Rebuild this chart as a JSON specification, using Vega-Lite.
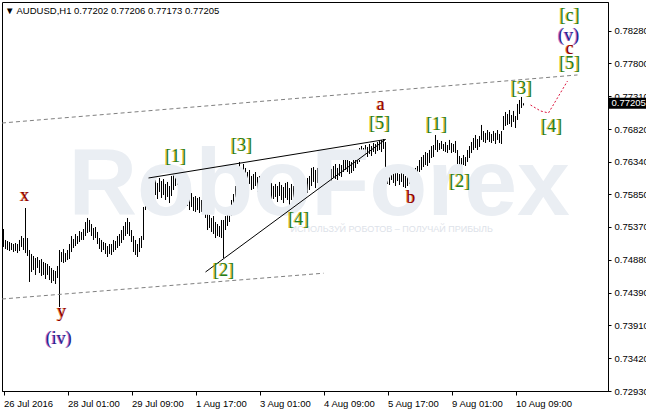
{
"$schema":"https://vega.github.io/schema/vega-lite/v6.json",
"width":606,"height":389,"autosize":"none",
"padding":{"left":2,"top":2,"right":38,"bottom":23},
"background":"white",
"config":{"view":{"stroke":"black","strokeWidth":1}},
"title":{"text":"▼ AUDUSD,H1  0.77202 0.77206 0.77173 0.77205","anchor":"start","frame":"group","offset":-13,"font":"Liberation Sans","fontSize":9.5,"fontWeight":"normal","color":"black","dx":3},
"datasets":{
"bars":[
{"i":0,"h":0.75337,"l":0.7507},{"i":1,"h":0.75174,"l":0.7504},{"i":2,"h":0.75159,"l":0.75025},{"i":3,"h":0.75144,"l":0.7501},{"i":4,"h":0.75129,"l":0.75025},{"i":5,"h":0.75114,"l":0.74995},{"i":6,"h":0.75129,"l":0.7501},{"i":7,"h":0.75114,"l":0.7498},{"i":8,"h":0.75174,"l":0.7501},{"i":9,"h":0.75233,"l":0.7507},
{"i":10,"h":0.75203,"l":0.75025},{"i":11,"h":0.75649,"l":0.7498},{"i":12,"h":0.75203,"l":0.74936},{"i":13,"h":0.75025,"l":0.7455},{"i":14,"h":0.74966,"l":0.74698},{"i":15,"h":0.74936,"l":0.74728},{"i":16,"h":0.74906,"l":0.74654},{"i":17,"h":0.74921,"l":0.74758},{"i":18,"h":0.74876,"l":0.74683},{"i":19,"h":0.74891,"l":0.74639},
{"i":20,"h":0.74847,"l":0.74654},{"i":21,"h":0.74832,"l":0.74594},{"i":22,"h":0.74817,"l":0.74654},{"i":23,"h":0.74787,"l":0.74579},{"i":24,"h":0.74758,"l":0.74535},{"i":25,"h":0.74728,"l":0.74564},{"i":26,"h":0.74713,"l":0.7452},{"i":27,"h":0.74787,"l":0.74609},{"i":28,"h":0.75025,"l":0.74178},{"i":29,"h":0.74995,"l":0.74847},
{"i":30,"h":0.7504,"l":0.74832},{"i":31,"h":0.7498,"l":0.74847},{"i":32,"h":0.75025,"l":0.74876},{"i":33,"h":0.75114,"l":0.74891},{"i":34,"h":0.75233,"l":0.74995},{"i":35,"h":0.75189,"l":0.75055},{"i":36,"h":0.75263,"l":0.75084},{"i":37,"h":0.75233,"l":0.75114},{"i":38,"h":0.75307,"l":0.75144},{"i":39,"h":0.75293,"l":0.75174},
{"i":40,"h":0.75337,"l":0.75174},{"i":41,"h":0.75441,"l":0.75233},{"i":42,"h":0.75501,"l":0.75278},{"i":43,"h":0.75471,"l":0.75293},{"i":44,"h":0.75411,"l":0.75233},{"i":45,"h":0.75352,"l":0.75174},{"i":46,"h":0.75367,"l":0.75203},{"i":47,"h":0.75293,"l":0.75114},{"i":48,"h":0.75203,"l":0.7504},{"i":49,"h":0.75174,"l":0.74995},
{"i":50,"h":0.75144,"l":0.75025},{"i":51,"h":0.75129,"l":0.74966},{"i":52,"h":0.75084,"l":0.74921},{"i":53,"h":0.75114,"l":0.74966},{"i":54,"h":0.75114,"l":0.74951},{"i":55,"h":0.75174,"l":0.74995},{"i":56,"h":0.75159,"l":0.75025},{"i":57,"h":0.75233,"l":0.75055},{"i":58,"h":0.75263,"l":0.75084},{"i":59,"h":0.75322,"l":0.75129},
{"i":60,"h":0.75382,"l":0.75174},{"i":61,"h":0.75441,"l":0.75233},{"i":62,"h":0.75501,"l":0.75263},{"i":63,"h":0.75441,"l":0.75233},{"i":64,"h":0.75322,"l":0.75144},{"i":65,"h":0.75233,"l":0.74995},{"i":66,"h":0.75174,"l":0.74951},{"i":67,"h":0.75114,"l":0.74921},{"i":68,"h":0.75203,"l":0.74995},{"i":69,"h":0.75233,"l":0.75055},
{"i":70,"h":0.75664,"l":0.75174},{"i":71,"h":0.75917,"l":0.75619},{"i":72,"h":0.76095,"l":0.75709},{"i":73,"h":0.7611,"l":0.75887},{"i":74,"h":0.76095,"l":0.75857},{"i":75,"h":0.7605,"l":0.75827},{"i":76,"h":0.76065,"l":0.75842},{"i":77,"h":0.76021,"l":0.75783},{"i":78,"h":0.76095,"l":0.75887},{"i":79,"h":0.7605,"l":0.75798},
{"i":80,"h":0.7608,"l":0.75842},{"i":81,"h":0.76006,"l":0.75768},{"i":82,"h":0.76036,"l":0.75813},{"i":83,"h":0.75976,"l":0.75723},{"i":84,"h":0.76125,"l":0.75827},{"i":85,"h":0.76154,"l":0.75917},{"i":86,"h":0.76184,"l":0.75976},{"i":87,"h":0.76169,"l":0.75991},{"i":88,"h":0.76199,"l":0.75917},{"i":89,"h":0.76095,"l":0.75798},
{"i":90,"h":0.76021,"l":0.75768},{"i":91,"h":0.75976,"l":0.75709},{"i":92,"h":0.75946,"l":0.75679},{"i":93,"h":0.75842,"l":0.75619},{"i":94,"h":0.75872,"l":0.75664},{"i":95,"h":0.75813,"l":0.75605},{"i":96,"h":0.75827,"l":0.7559},{"i":97,"h":0.75798,"l":0.75619},{"i":98,"h":0.75813,"l":0.75575},{"i":99,"h":0.75768,"l":0.7559},
{"i":100,"h":0.75783,"l":0.75634},{"i":101,"h":0.75768,"l":0.75501},{"i":102,"h":0.7556,"l":0.75322},{"i":103,"h":0.75545,"l":0.75352},{"i":104,"h":0.75501,"l":0.75293},{"i":105,"h":0.7553,"l":0.75263},{"i":106,"h":0.75441,"l":0.75203},{"i":107,"h":0.75411,"l":0.75233},{"i":108,"h":0.75382,"l":0.75218},{"i":109,"h":0.75471,"l":0.75203},
{"i":110,"h":0.75471,"l":0.74906},{"i":111,"h":0.7553,"l":0.75322},{"i":112,"h":0.7559,"l":0.75382},{"i":113,"h":0.75649,"l":0.75441},{"i":114,"h":0.75768,"l":0.7553},{"i":115,"h":0.75857,"l":0.7559},{"i":116,"h":0.75976,"l":0.75709},{"i":117,"h":0.76214,"l":0.75798},{"i":118,"h":0.76333,"l":0.75991},{"i":119,"h":0.76244,"l":0.75946},
{"i":120,"h":0.76303,"l":0.76036},{"i":121,"h":0.76244,"l":0.76006},{"i":122,"h":0.76184,"l":0.75917},{"i":123,"h":0.76214,"l":0.76006},{"i":124,"h":0.76125,"l":0.75917},{"i":125,"h":0.76154,"l":0.75932},{"i":126,"h":0.76184,"l":0.75976},{"i":127,"h":0.7611,"l":0.75887},{"i":128,"h":0.76125,"l":0.75946},{"i":129,"h":0.76095,"l":0.75842},
{"i":130,"h":0.76065,"l":0.75887},{"i":131,"h":0.76036,"l":0.75827},{"i":132,"h":0.76065,"l":0.75842},{"i":133,"h":0.76006,"l":0.75798},{"i":134,"h":0.76021,"l":0.75768},{"i":135,"h":0.75976,"l":0.75783},{"i":136,"h":0.76006,"l":0.75813},{"i":137,"h":0.75976,"l":0.75738},{"i":138,"h":0.76036,"l":0.75827},{"i":139,"h":0.75991,"l":0.75768},
{"i":140,"h":0.75961,"l":0.75723},{"i":141,"h":0.76021,"l":0.75798},{"i":142,"h":0.76036,"l":0.75768},{"i":143,"h":0.75946,"l":0.75679},{"i":144,"h":0.76006,"l":0.75768},{"i":145,"h":0.75976,"l":0.75783},{"i":146,"h":0.75946,"l":0.75723},{"i":147,"h":0.75991,"l":0.75798},{"i":148,"h":0.76036,"l":0.75827},{"i":149,"h":0.76006,"l":0.75842},
{"i":150,"h":0.76065,"l":0.75857},{"i":151,"h":0.76036,"l":0.75887},{"i":152,"h":0.76095,"l":0.75872},{"i":153,"h":0.76125,"l":0.75917},{"i":154,"h":0.76244,"l":0.75976},{"i":155,"h":0.76258,"l":0.76036},{"i":156,"h":0.76214,"l":0.75946},{"i":157,"h":0.76244,"l":0.76021},{"i":158,"h":0.76184,"l":0.75976},{"i":159,"h":0.76214,"l":0.75976},
{"i":160,"h":0.76258,"l":0.7605},{"i":161,"h":0.76244,"l":0.76006},{"i":162,"h":0.76199,"l":0.75991},{"i":163,"h":0.76273,"l":0.76065},{"i":164,"h":0.76229,"l":0.76036},{"i":165,"h":0.76273,"l":0.76095},{"i":166,"h":0.76303,"l":0.7608},{"i":167,"h":0.76244,"l":0.76065},{"i":168,"h":0.76303,"l":0.76125},{"i":169,"h":0.76288,"l":0.7611},
{"i":170,"h":0.76407,"l":0.76184},{"i":171,"h":0.76392,"l":0.76214},{"i":172,"h":0.76362,"l":0.76184},{"i":173,"h":0.76348,"l":0.76154},{"i":174,"h":0.76333,"l":0.76169},{"i":175,"h":0.76362,"l":0.76199},{"i":176,"h":0.76422,"l":0.76244},{"i":177,"h":0.76511,"l":0.76303},{"i":178,"h":0.76541,"l":0.76333},{"i":179,"h":0.7657,"l":0.76392},
{"i":180,"h":0.76541,"l":0.76422},{"i":181,"h":0.76585,"l":0.76437},{"i":182,"h":0.76556,"l":0.76407},{"i":183,"h":0.766,"l":0.76452},{"i":184,"h":0.7657,"l":0.76422},{"i":185,"h":0.76615,"l":0.76481},{"i":186,"h":0.766,"l":0.76452},{"i":187,"h":0.7663,"l":0.76496},{"i":188,"h":0.76645,"l":0.76511},{"i":189,"h":0.7666,"l":0.76481},
{"i":190,"h":0.76674,"l":0.76526},{"i":191,"h":0.7663,"l":0.75976},{"i":192,"h":0.76244,"l":0.76006},{"i":193,"h":0.76199,"l":0.75991},{"i":194,"h":0.76258,"l":0.76065},{"i":195,"h":0.76214,"l":0.76021},{"i":196,"h":0.76184,"l":0.75976},{"i":197,"h":0.76229,"l":0.7605},{"i":198,"h":0.76154,"l":0.75991},{"i":199,"h":0.76214,"l":0.76036},
{"i":200,"h":0.76169,"l":0.75961},{"i":201,"h":0.76125,"l":0.75946},{"i":202,"h":0.76154,"l":0.75976},{"i":203,"h":0.76184,"l":0.76006},{"i":204,"h":0.76214,"l":0.76036},{"i":205,"h":0.76199,"l":0.76065},{"i":206,"h":0.76244,"l":0.76036},{"i":207,"h":0.76273,"l":0.76095},{"i":208,"h":0.76362,"l":0.76184},{"i":209,"h":0.76407,"l":0.76214},
{"i":210,"h":0.76437,"l":0.76258},{"i":211,"h":0.76481,"l":0.76288},{"i":212,"h":0.76466,"l":0.76273},{"i":213,"h":0.76511,"l":0.76318},{"i":214,"h":0.7657,"l":0.76392},{"i":215,"h":0.76585,"l":0.76407},{"i":216,"h":0.76734,"l":0.76511},{"i":217,"h":0.7666,"l":0.76481},{"i":218,"h":0.76615,"l":0.76511},{"i":219,"h":0.76645,"l":0.76526},
{"i":220,"h":0.766,"l":0.76496},{"i":221,"h":0.7663,"l":0.76481},{"i":222,"h":0.76585,"l":0.76466},{"i":223,"h":0.7666,"l":0.76511},{"i":224,"h":0.76615,"l":0.76466},{"i":225,"h":0.766,"l":0.76481},{"i":226,"h":0.76645,"l":0.76466},{"i":227,"h":0.76511,"l":0.76303},{"i":228,"h":0.76422,"l":0.76244},{"i":229,"h":0.76392,"l":0.76273},
{"i":230,"h":0.76437,"l":0.76288},{"i":231,"h":0.76407,"l":0.76273},{"i":232,"h":0.76511,"l":0.76333},{"i":233,"h":0.7657,"l":0.76392},{"i":234,"h":0.7663,"l":0.76466},{"i":235,"h":0.76689,"l":0.76511},{"i":236,"h":0.76734,"l":0.76541},{"i":237,"h":0.76674,"l":0.76511},{"i":238,"h":0.76719,"l":0.76556},{"i":239,"h":0.76883,"l":0.7666},
{"i":240,"h":0.76793,"l":0.7663},{"i":241,"h":0.76764,"l":0.76615},{"i":242,"h":0.76808,"l":0.7666},{"i":243,"h":0.76779,"l":0.7663},{"i":244,"h":0.76749,"l":0.76615},{"i":245,"h":0.76793,"l":0.76645},{"i":246,"h":0.76764,"l":0.766},{"i":247,"h":0.76808,"l":0.7666},{"i":248,"h":0.76749,"l":0.76615},{"i":249,"h":0.76793,"l":0.766},
{"i":250,"h":0.77016,"l":0.76808},{"i":251,"h":0.77076,"l":0.76868},{"i":252,"h":0.77046,"l":0.76883},{"i":253,"h":0.77105,"l":0.76897},{"i":254,"h":0.77031,"l":0.76853},{"i":255,"h":0.77091,"l":0.76927},{"i":256,"h":0.77016,"l":0.76838},{"i":257,"h":0.77195,"l":0.76957},{"i":258,"h":0.77254,"l":0.77046},{"i":259,"h":0.77299,"l":0.77135},
{"i":260,"h":0.77206,"l":0.77173}
],
"lines":[
{"seg":"channel-upper","i":-0.75,"p":0.76912},{"seg":"channel-upper","i":287,"p":0.77626},
{"seg":"channel-lower","i":-0.75,"p":0.74297},{"seg":"channel-lower","i":160,"p":0.7468},
{"seg":"wedge-upper","i":72.5,"p":0.76095},{"seg":"wedge-upper","i":191,"p":0.76667},
{"seg":"wedge-lower","i":101,"p":0.74698},{"seg":"wedge-lower","i":191,"p":0.76667},
{"seg":"projection","i":263.5,"p":0.7718},{"seg":"projection","i":268.5,"p":0.77091},{"seg":"projection","i":272.5,"p":0.77061},{"seg":"projection","i":282,"p":0.77536}
],
"labels":[
{"t":"x","deg":"minor","i":10.5,"p":0.75827},
{"t":"y","deg":"minor","i":29,"p":0.74104},
{"t":"(iv)","deg":"intermediate","i":27.5,"p":0.73702},
{"t":"[1]","deg":"minute","i":86,"p":0.76407},
{"t":"[2]","deg":"minute","i":110,"p":0.74713},
{"t":"[3]","deg":"minute","i":119,"p":0.7657},
{"t":"[4]","deg":"minute","i":147.5,"p":0.75471},
{"t":"[5]","deg":"minute","i":188,"p":0.76897},
{"t":"a","deg":"minor","i":188.5,"p":0.7718},
{"t":"b","deg":"minor","i":203.5,"p":0.75798},
{"t":"[1]","deg":"minute","i":216.5,"p":0.76883},
{"t":"[2]","deg":"minute","i":228,"p":0.76036},
{"t":"[3]","deg":"minute","i":259,"p":0.77417},
{"t":"[4]","deg":"minute","i":274,"p":0.76853},
{"t":"[5]","deg":"minute","i":283,"p":0.77789},
{"t":"c","deg":"minor","i":283,"p":0.78012},
{"t":"(v)","deg":"intermediate","i":282.5,"p":0.78205},
{"t":"[c]","deg":"minute","i":283,"p":0.78502}
]
},
"layer":[
{"data":{"name":"bars"},
 "mark":{"type":"rule","color":"black","strokeWidth":1},
 "encoding":{
  "x":{"field":"i","type":"quantitative","title":null,"scale":{"domain":[-0.75,302.25],"nice":false,"zero":false},
   "axis":{"values":[0,32,64,96,128,160,192,224,256],"tickCount":20,"labelExpr":"['26 Jul 2016','28 Jul 01:00','29 Jul 09:00','1 Aug 17:00','3 Aug 01:00','4 Aug 09:00','5 Aug 17:00','9 Aug 01:00','10 Aug 09:00'][round(datum.value/32)]","labelAlign":"left","labelFont":"Liberation Sans","labelFontSize":9.5,"labelColor":"black","tickColor":"black","domainColor":"black","tickSize":4,"labelPadding":3,"title":null,"grid":false,"labelFlush":false,"labelOverlap":false,"labelBound":false}},
  "y":{"field":"h","type":"quantitative","title":null,"scale":{"domain":[0.7293,0.7871],"nice":false,"zero":false},
   "axis":{"orient":"right","values":[0.7293,0.7342,0.7391,0.7439,0.7488,0.7537,0.7585,0.7634,0.7682,0.7731,0.778,0.7828],"tickCount":20,"format":".5f","labelFont":"Liberation Sans","labelFontSize":9.5,"labelColor":"black","tickColor":"black","domainColor":"black","tickSize":3,"labelPadding":3,"title":null,"grid":false,"labelFlush":false,"labelOverlap":false,"labelBound":false}},
  "y2":{"field":"l"}}},
{"data":{"values":[{"t":"RoboForex"}]},
 "mark":{"type":"text","font":"Liberation Sans","fontWeight":"bold","fontSize":95,"color":"#eaeef3","align":"left","baseline":"alphabetic"},
 "encoding":{"x":{"datum":32.5,"type":"quantitative","title":null},
  "y":{"datum":0.75545,"type":"quantitative","title":null},
  "text":{"field":"t"}}},
{"data":{"values":[{"t":"ИСПОЛЬЗУЙ РОБОТОВ – ПОЛУЧАЙ ПРИБЫЛЬ"}]},
 "mark":{"type":"text","font":"Liberation Sans","fontSize":9,"color":"#dde2e9","align":"left","baseline":"middle"},
 "encoding":{"x":{"datum":143.5,"type":"quantitative","title":null},
  "y":{"datum":0.75337,"type":"quantitative","title":null},
  "text":{"field":"t"}}},
{"data":{"name":"lines"},
 "transform":[{"filter":"indexof(['channel-upper','channel-lower'], datum.seg) >= 0"}],
 "mark":{"type":"line","color":"#808080","strokeWidth":1,"strokeDash":[4,3]},
 "encoding":{"x":{"field":"i","type":"quantitative","title":null},"y":{"field":"p","type":"quantitative","title":null},"detail":{"field":"seg"}}},
{"data":{"name":"lines"},
 "transform":[{"filter":"indexof(['wedge-upper','wedge-lower'], datum.seg) >= 0"}],
 "mark":{"type":"line","color":"black","strokeWidth":1},
 "encoding":{"x":{"field":"i","type":"quantitative","title":null},"y":{"field":"p","type":"quantitative","title":null},"detail":{"field":"seg"}}},
{"data":{"name":"lines"},
 "transform":[{"filter":"datum.seg == 'projection'"}],
 "mark":{"type":"line","color":"#dc143c","strokeWidth":1,"strokeDash":[2,2]},
 "encoding":{"x":{"field":"i","type":"quantitative","title":null},"y":{"field":"p","type":"quantitative","title":null},"detail":{"field":"seg"}}},
{"data":{"name":"labels"},
 "mark":{"type":"text","font":"Liberation Serif","fontSize":18,"align":"center","baseline":"middle","dx":-0.8,"opacity":0.8},
 "encoding":{"x":{"field":"i","type":"quantitative","title":null},"y":{"field":"p","type":"quantitative","title":null},"text":{"field":"t"},
  "color":{"field":"deg","type":"nominal","scale":{"domain":["minute","minor","intermediate"],"range":["#e3b200","#e0601a","#c050c0"]},"legend":null}}},
{"data":{"name":"labels"},
 "mark":{"type":"text","font":"Liberation Serif","fontSize":18,"align":"center","baseline":"middle","dx":0.3},
 "encoding":{"x":{"field":"i","type":"quantitative","title":null},"y":{"field":"p","type":"quantitative","title":null},"text":{"field":"t"},
  "fill":{"field":"deg","type":"nominal","scale":{"domain":["minute","minor","intermediate"],"range":["#1f7f1f","#8b0000","#26268f"]},"legend":null}}},
{"data":{"values":[{"p":0.77205}]},
 "mark":{"type":"point","shape":"M-1,-0.29L1,-0.29L1,0.29L-1,0.29Z","size":1444,"filled":true,"color":"black","opacity":1},
 "encoding":{"x":{"datum":312,"type":"quantitative","title":null},"y":{"field":"p","type":"quantitative","title":null}}},
{"data":{"values":[{"p":0.77205}]},
 "mark":{"type":"text","font":"Liberation Sans","fontSize":9.5,"color":"white","align":"left","baseline":"middle","dx":-16},
 "encoding":{"x":{"datum":312,"type":"quantitative","title":null},"y":{"field":"p","type":"quantitative","title":null},"text":{"field":"p","type":"quantitative","format":".5f"}}}
]
}
